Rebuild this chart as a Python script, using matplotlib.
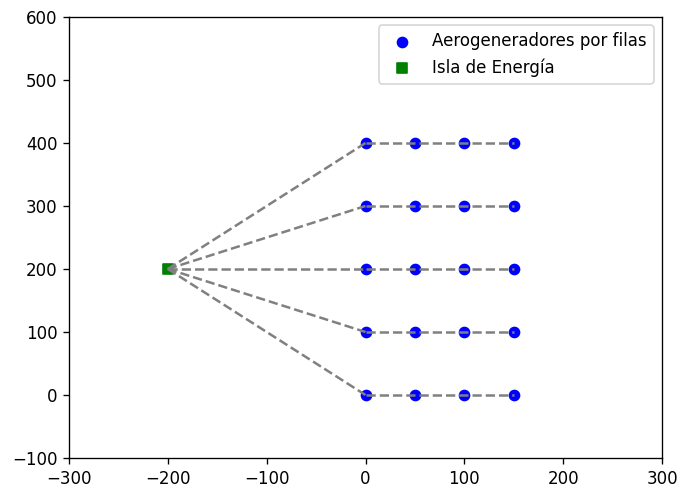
import matplotlib
matplotlib.use("Agg")
import matplotlib.pyplot as plt

turbine_x = [0, 50, 100, 150]
row_y = [0, 100, 200, 300, 400]
island_x = [-200]
island_y = [200]

DPI = 120
fig = plt.figure(figsize=(678/DPI, 488/DPI), dpi=DPI)
ax = fig.add_axes([69/678, 1-458/488, (662-69)/678, (458-17)/488])

xs = [x for y in row_y for x in turbine_x]
ys = [y for y in row_y for x in turbine_x]
ax.scatter(xs, ys, c='blue', marker='o', label='Aerogeneradores por filas')
ax.scatter(island_x, island_y, c='green', marker='s', label='Isla de Energía')

for y in row_y:
    ax.plot([island_x[0], turbine_x[0]], [island_y[0], y], color='gray', linestyle='--')
    ax.plot(turbine_x, [y]*len(turbine_x), color='gray', linestyle='--')

ax.set_xlim(-300, 300)
ax.set_ylim(-100, 600)
ax.legend(loc='upper right')
fig.savefig('out.png', dpi=DPI)
